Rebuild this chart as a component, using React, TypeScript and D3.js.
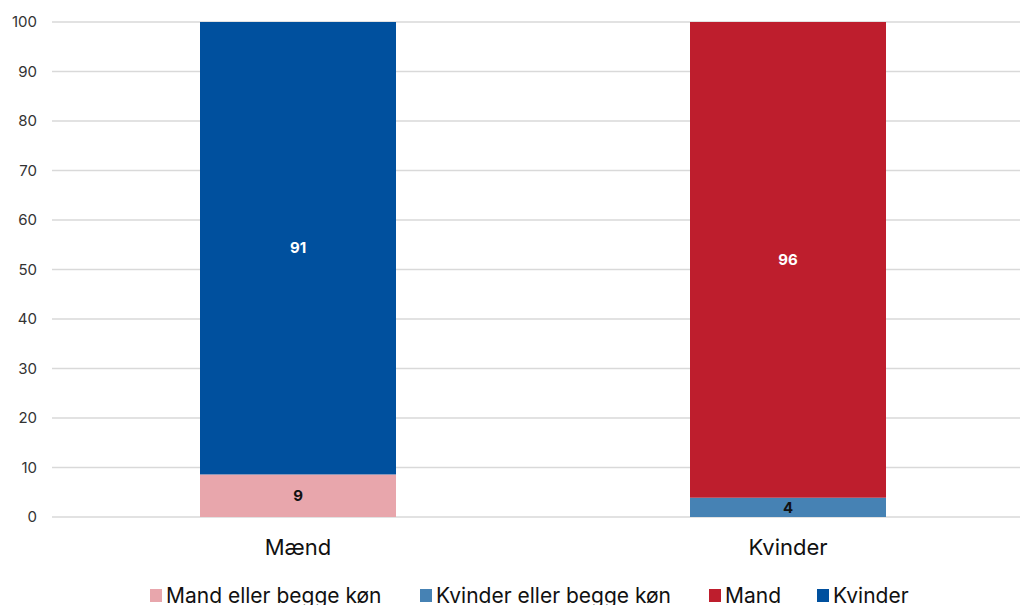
import React from "react";
import * as d3 from "d3";

const categories = ["Mænd", "Kvinder"];
const seriesNames = ["Mand eller begge køn", "Kvinder eller begge køn", "Mand", "Kvinder"];
const seriesColors = ["#E8A6AC", "#4682B4", "#BE1E2D", "#00509E"];
const labelColors = ["#111", "#111", "#fff", "#fff"];
// values per series, per category
const mandEllerBegge = [8.6, 0];
const kvinderEllerBegge = [0, 3.9];
const mand = [0, 96.1];
const kvinder = [91.4, 0];
const yTicks = [0, 10, 20, 30, 40, 50, 60, 70, 80, 90, 100];

const W = 1020;
const H = 605;
const FONT = "Inter, 'Noto Sans', sans-serif";

export default function App() {
  const left = 52;
  const right = 1032;
  const top = 22;
  const bottom = 517;
  const x = d3.scaleBand().domain(categories).range([left + 1, right + 1]).paddingInner(0.6).paddingOuter(0.3);
  const y = d3.scaleLinear().domain([0, 100]).range([bottom, top]);
  const rows = categories.map((c, i) => ({
    cat: c,
    s0: mandEllerBegge[i],
    s1: kvinderEllerBegge[i],
    s2: mand[i],
    s3: kvinder[i],
  }));
  const stack = d3.stack<any>().keys(["s0", "s1", "s2", "s3"])(rows);

  const legendX = [150, 420, 709, 817];

  return (
    <svg width={W} height={H} style={{ position: "absolute", left: 0, top: 0 }} fontFamily={FONT}>
      <rect width={W} height={H} fill="#fff" />
      {yTicks.map((t) => (
        <g key={t}>
          <line x1={left} x2={W} y1={y(t)} y2={y(t)} stroke="#d9d9d9" strokeWidth={1.5} />
          <text x={37} y={y(t)} dy="0.35em" textAnchor="end" fontSize={15} fill="#333">
            {t}
          </text>
        </g>
      ))}
      {stack.map((layer, si) =>
        layer.map((d, ci) => {
          const v = d[1] - d[0];
          if (v <= 0) return null;
          const cat = categories[ci];
          const x0 = x(cat)!;
          return (
            <g key={`${si}-${ci}`}>
              <rect x={x0} width={x.bandwidth()} y={y(d[1])} height={y(d[0]) - y(d[1])} fill={seriesColors[si]} />
              <text
                x={x0 + x.bandwidth() / 2}
                y={(y(d[0]) + y(d[1])) / 2}
                dy="0.35em"
                textAnchor="middle"
                fontSize={15}
                fontWeight="bold"
                fill={labelColors[si]}
              >
                {Math.round(v)}
              </text>
            </g>
          );
        })
      )}
      {categories.map((c) => (
        <text key={c} x={x(c)! + x.bandwidth() / 2} y={547} dy="0.35em" textAnchor="middle" fontSize={22} fill="#111">
          {c}
        </text>
      ))}
      {seriesNames.map((n, i) => (
        <g key={n}>
          <rect x={legendX[i]} y={589} width={12} height={13} fill={seriesColors[i]} />
          <text x={legendX[i] + 16} y={603} fontSize={21} fill="#111">
            {n}
          </text>
        </g>
      ))}
    </svg>
  );
}
